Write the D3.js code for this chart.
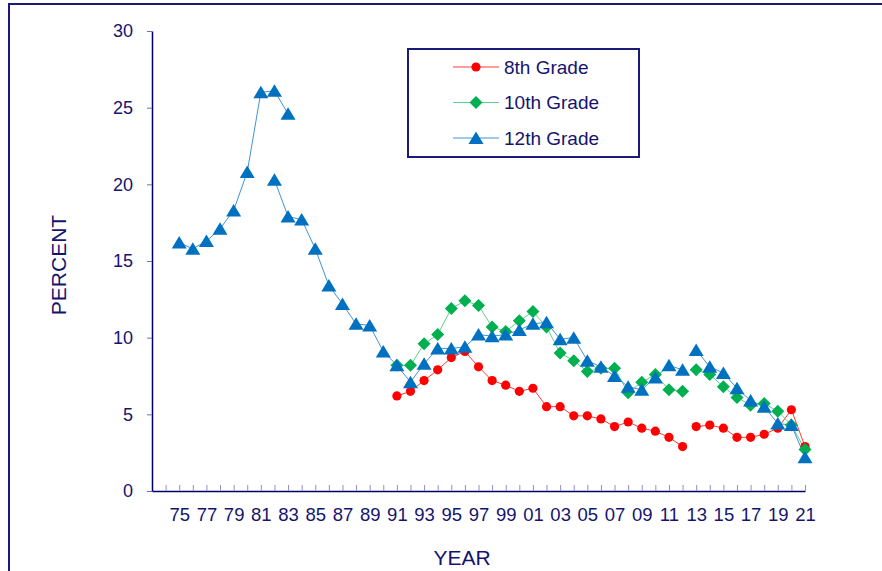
<!DOCTYPE html>
<html>
<head>
<meta charset="utf-8">
<script src="https://cdn.jsdelivr.net/npm/d3@7"></script>
<style>
  body { margin: 0; background: #fff; }
  text { font-family: "Liberation Sans", Arial, sans-serif; fill: #14146e; }
</style>
</head>
<body>
<div id="chart"></div>
<script>
// data (annual prevalence, percent)
var years8 = [1991,1992,1993,1994,1995,1996,1997,1998,1999,2000,2001,2002,2003,2004,2005,2006,2007,2008,2009,2010,2011,2012,
              2013,2014,2015,2016,2017,2018,2019,2020,2021];
var grade8 = [6.2,6.5,7.2,7.9,8.7,9.1,8.1,7.2,6.9,6.5,6.7,5.5,5.5,4.9,4.9,4.7,4.2,4.5,4.1,3.9,3.5,2.9,
              4.2,4.3,4.1,3.5,3.5,3.7,4.1,5.3,2.9];
var grade10 = [8.2,8.2,9.6,10.2,11.9,12.4,12.1,10.7,10.4,11.1,11.7,10.7,9.0,8.5,7.8,8.0,8.0,6.4,7.1,7.6,6.6,6.5,
               7.9,7.6,6.8,6.1,5.6,5.7,5.2,4.3,2.7];
var years12old = [1975,1976,1977,1978,1979,1980,1981,1982,1983];
var grade12old = [16.2,15.8,16.3,17.1,18.3,20.8,26.0,26.1,24.6];
var years12 = [1982,1983,1984,1985,1986,1987,1988,1989,1990,1991,1992,1993,1994,1995,1996,1997,1998,1999,2000,2001,2002,
               2003,2004,2005,2006,2007,2008,2009,2010,2011,2012,
               2013,2014,2015,2016,2017,2018,2019,2020,2021];
var grade12 = [20.3,17.9,17.7,15.8,13.4,12.2,10.9,10.8,9.1,8.2,7.1,8.3,9.3,9.3,9.4,10.2,10.1,10.2,10.5,10.9,11.0,
               9.9,10.0,8.5,8.1,7.5,6.8,6.6,7.4,8.2,7.9,
               9.2,8.1,7.7,6.7,5.9,5.5,4.4,4.3,2.2];
var breakYear = 2013; // question wording changed, lines are not joined across it
var yTicks = [0,5,10,15,20,25,30];

var width = 882, height = 571;
var svg = d3.select("#chart").append("svg")
    .attr("width", width)
    .attr("height", height);

// outer frame (left + top visible)
svg.append("path")
    .attr("d", "M9,575 L9,4 L882,4")
    .attr("fill", "none")
    .attr("stroke", "#1a1a78")
    .attr("stroke-width", 2);

var x = d3.scaleLinear().domain([1973, 2021]).range([152, 805]);
var y = d3.scaleLinear().domain([0, 30]).range([491, 31]);

//eixo y
var yAxis = svg.append("g")
    .attr("transform", "translate(152,0)")
    .call(d3.axisLeft(y).tickValues(yTicks).tickSize(5).tickSizeOuter(0).tickPadding(14));
yAxis.select(".domain").attr("stroke", "#000066").attr("stroke-width", 1.5);
yAxis.selectAll(".tick line").attr("stroke", "#7070a8");
yAxis.selectAll(".tick text").style("font-size", "18px").attr("fill", "#14146e");

//eixo x
var allYears = d3.range(1974, 2022);
var xAxis = svg.append("g")
    .attr("transform", "translate(0,491)")
    .call(d3.axisBottom(x).tickValues(allYears).tickSize(-6).tickSizeOuter(0)
        .tickFormat(d => (d % 2 == 1) ? String(d % 100).padStart(2, "0") : ""));
xAxis.select(".domain").attr("stroke", "#000066").attr("stroke-width", 1.5);
xAxis.selectAll(".tick line").attr("stroke", "#9090c0");
xAxis.selectAll(".tick text").attr("y", 17).style("font-size", "18.5px").attr("fill", "#14146e");

svg.append("text")
    .attr("transform", "translate(66,265) rotate(-90)")
    .attr("text-anchor", "middle")
    .style("font-size", "21px")
    .text("PERCENT");
svg.append("text")
    .attr("x", 462).attr("y", 565)
    .attr("text-anchor", "middle")
    .style("font-size", "21px")
    .text("YEAR");

function pts(yrs, vals) {
    return yrs.map((d, i) => ({ year: d, v: vals[i] }));
}
// split a series where the line breaks
function segments(p) {
    var a = p.filter(d => d.year < breakYear), b = p.filter(d => d.year >= breakYear);
    return [a, b].filter(s => s.length);
}

var series = [
    { name: "8th Grade", segs: segments(pts(years8, grade8)), line: "#ff3a3a", fill: "#ff0000", shape: "circle" },
    { name: "10th Grade", segs: segments(pts(years8, grade10)), line: "#5fd08c", fill: "#00b050", shape: "diamond" },
    { name: "12th Grade", segs: [pts(years12old, grade12old)].concat(segments(pts(years12, grade12))),
      line: "#3d94d6", fill: "#0070c0", shape: "triangle" }
];

var line = d3.line().x(d => x(d.year)).y(d => y(d.v));

function marker(g, shape, fill) {
    if (shape == "circle") {
        g.append("circle").attr("r", 4.6).attr("fill", fill);
    } else if (shape == "diamond") {
        g.append("path").attr("d", "M0,-6.5L6.5,0L0,6.5L-6.5,0Z").attr("fill", fill);
    } else {
        g.append("path").attr("d", "M0,-6.5L7.5,6L-7.5,6Z").attr("fill", fill);
    }
}

// linhas primeiro
series.forEach(s => {
    s.segs.forEach(seg => {
        svg.append("path")
            .attr("d", line(seg))
            .attr("fill", "none")
            .attr("stroke", s.line)
            .attr("stroke-width", 1);
    });
});
// depois os marcadores
series.forEach(s => {
    s.segs.forEach(seg => {
        seg.forEach(d => {
            var g = svg.append("g").attr("transform", "translate(" + x(d.year) + "," + y(d.v) + ")");
            marker(g, s.shape, s.fill);
        });
    });
});

// legenda
var leg = svg.append("g");
leg.append("rect")
    .attr("x", 408).attr("y", 49).attr("width", 231).attr("height", 108)
    .attr("fill", "#fff").attr("stroke", "#1a1a78").attr("stroke-width", 2);
series.forEach((s, i) => {
    var ly = 67 + i * 35.5;
    leg.append("line")
        .attr("x1", 453).attr("x2", 499).attr("y1", ly).attr("y2", ly)
        .attr("stroke", s.line).attr("stroke-width", 1.2);
    var g = leg.append("g").attr("transform", "translate(476," + ly + ")");
    marker(g, s.shape, s.fill);
    leg.append("text")
        .attr("x", 504).attr("y", ly)
        .attr("dy", "0.36em")
        .style("font-size", "19px")
        .text(s.name);
});
</script>
</body>
</html>
